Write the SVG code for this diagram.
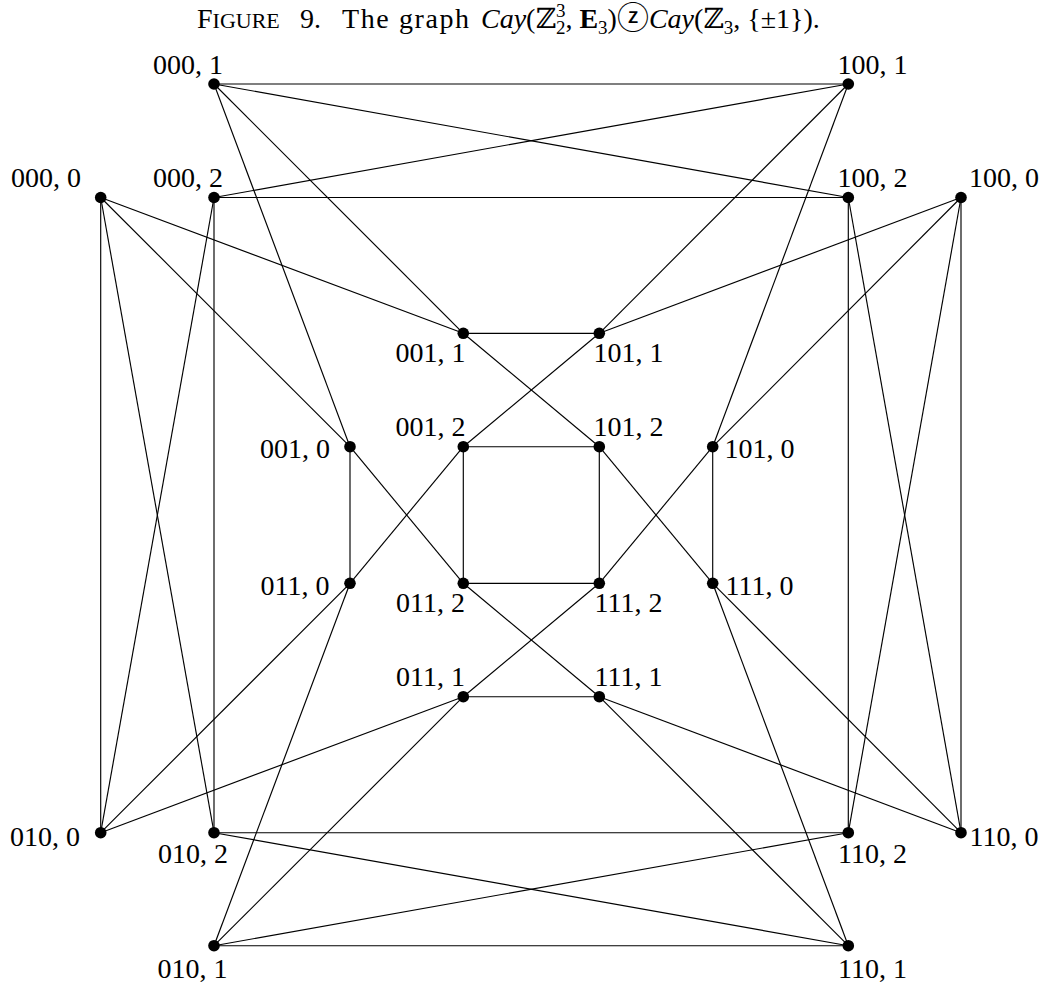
<svg xmlns="http://www.w3.org/2000/svg" width="1044" height="985" viewBox="0 0 1044 985">
<style>
.bg{fill:#fff}
.e line{stroke:#000;stroke-width:1.15;fill:none}
.n circle{fill:#000}
text{font-family:"Liberation Serif","DejaVu Serif","DejaVu Sans","Noto Sans CJK JP",serif;font-size:28px;fill:#000}
.lbl{text-anchor:middle}
.t{font-size:28px}
</style>
<rect class="bg" x="0" y="0" width="1044" height="985"/>
<text class="t" x="197" y="28">F<tspan font-size="22">IGURE</tspan><tspan x="300">9.</tspan><tspan x="342" textLength="127" lengthAdjust="spacing">The graph</tspan><tspan x="481" font-style="italic">Cay</tspan>(ℤ<tspan font-size="19" dy="-11">3</tspan><tspan font-size="19" dx="-9.5" dy="17">2</tspan><tspan dy="-6">, </tspan><tspan font-weight="bold">E</tspan><tspan font-size="19" dy="6">3</tspan><tspan dy="-6">)</tspan><tspan font-size="32" dy="1">ⓩ</tspan><tspan font-style="italic" dy="-1">Cay</tspan>(ℤ<tspan font-size="19" dy="6">3</tspan><tspan dy="-6">, {±1}).</tspan></text>
<g id="connectors" class="e">
<line x1="214" y1="84" x2="848.3" y2="84"/>
<line x1="214" y1="84" x2="848.3" y2="197.5"/>
<line x1="214" y1="197.5" x2="848.3" y2="197.5"/>
<line x1="214" y1="197.5" x2="848.3" y2="84"/>
<line x1="463.3" y1="333.3" x2="599.3" y2="333.3"/>
<line x1="463.3" y1="333.3" x2="599.3" y2="446.7"/>
<line x1="463.3" y1="446.7" x2="599.3" y2="446.7"/>
<line x1="463.3" y1="446.7" x2="599.3" y2="333.3"/>
<line x1="214" y1="945.7" x2="848.3" y2="945.7"/>
<line x1="214" y1="945.7" x2="848.3" y2="832.7"/>
<line x1="214" y1="832.7" x2="848.3" y2="832.7"/>
<line x1="214" y1="832.7" x2="848.3" y2="945.7"/>
<line x1="463.3" y1="696.7" x2="599.3" y2="696.7"/>
<line x1="463.3" y1="696.7" x2="599.3" y2="583.3"/>
<line x1="463.3" y1="583.3" x2="599.3" y2="583.3"/>
<line x1="463.3" y1="583.3" x2="599.3" y2="696.7"/>
<line x1="100.7" y1="197.5" x2="100.7" y2="832.7"/>
<line x1="100.7" y1="197.5" x2="214" y2="832.7"/>
<line x1="214" y1="197.5" x2="214" y2="832.7"/>
<line x1="214" y1="197.5" x2="100.7" y2="832.7"/>
<line x1="350" y1="446.7" x2="350" y2="583.3"/>
<line x1="350" y1="446.7" x2="463.3" y2="583.3"/>
<line x1="463.3" y1="446.7" x2="463.3" y2="583.3"/>
<line x1="463.3" y1="446.7" x2="350" y2="583.3"/>
<line x1="961" y1="197.5" x2="961" y2="832.7"/>
<line x1="961" y1="197.5" x2="848.3" y2="832.7"/>
<line x1="848.3" y1="197.5" x2="848.3" y2="832.7"/>
<line x1="848.3" y1="197.5" x2="961" y2="832.7"/>
<line x1="712.7" y1="446.7" x2="712.7" y2="583.3"/>
<line x1="712.7" y1="446.7" x2="599.3" y2="583.3"/>
<line x1="599.3" y1="446.7" x2="599.3" y2="583.3"/>
<line x1="599.3" y1="446.7" x2="712.7" y2="583.3"/>
<line x1="100.7" y1="197.5" x2="350" y2="446.7"/>
<line x1="100.7" y1="197.5" x2="463.3" y2="333.3"/>
<line x1="214" y1="84" x2="350" y2="446.7"/>
<line x1="214" y1="84" x2="463.3" y2="333.3"/>
<line x1="100.7" y1="832.7" x2="350" y2="583.3"/>
<line x1="100.7" y1="832.7" x2="463.3" y2="696.7"/>
<line x1="214" y1="945.7" x2="350" y2="583.3"/>
<line x1="214" y1="945.7" x2="463.3" y2="696.7"/>
<line x1="961" y1="197.5" x2="712.7" y2="446.7"/>
<line x1="961" y1="197.5" x2="599.3" y2="333.3"/>
<line x1="848.3" y1="84" x2="712.7" y2="446.7"/>
<line x1="848.3" y1="84" x2="599.3" y2="333.3"/>
<line x1="961" y1="832.7" x2="712.7" y2="583.3"/>
<line x1="961" y1="832.7" x2="599.3" y2="696.7"/>
<line x1="848.3" y1="945.7" x2="712.7" y2="583.3"/>
<line x1="848.3" y1="945.7" x2="599.3" y2="696.7"/>
</g>
<g id="n000_1" class="n"><circle cx="214" cy="84" r="5.8"/><text class="lbl" x="188" y="74">000, 1</text></g>
<g id="n100_1" class="n"><circle cx="848.3" cy="84" r="5.8"/><text class="lbl" x="872.5" y="74">100, 1</text></g>
<g id="n000_0" class="n"><circle cx="100.7" cy="197.5" r="5.8"/><text class="lbl" x="46" y="187">000, 0</text></g>
<g id="n000_2" class="n"><circle cx="214" cy="197.5" r="5.8"/><text class="lbl" x="188" y="187">000, 2</text></g>
<g id="n100_2" class="n"><circle cx="848.3" cy="197.5" r="5.8"/><text class="lbl" x="872.5" y="187">100, 2</text></g>
<g id="n100_0" class="n"><circle cx="961" cy="197.5" r="5.8"/><text class="lbl" x="1004" y="187">100, 0</text></g>
<g id="n001_1" class="n"><circle cx="463.3" cy="333.3" r="5.8"/><text class="lbl" x="430.5" y="362">001, 1</text></g>
<g id="n101_1" class="n"><circle cx="599.3" cy="333.3" r="5.8"/><text class="lbl" x="628.5" y="362">101, 1</text></g>
<g id="n001_0" class="n"><circle cx="350" cy="446.7" r="5.8"/><text class="lbl" x="295" y="458">001, 0</text></g>
<g id="n001_2" class="n"><circle cx="463.3" cy="446.7" r="5.8"/><text class="lbl" x="430.5" y="436">001, 2</text></g>
<g id="n101_2" class="n"><circle cx="599.3" cy="446.7" r="5.8"/><text class="lbl" x="628.5" y="436">101, 2</text></g>
<g id="n101_0" class="n"><circle cx="712.7" cy="446.7" r="5.8"/><text class="lbl" x="759.5" y="458">101, 0</text></g>
<g id="n011_0" class="n"><circle cx="350" cy="583.3" r="5.8"/><text class="lbl" x="295" y="595">011, 0</text></g>
<g id="n011_2" class="n"><circle cx="463.3" cy="583.3" r="5.8"/><text class="lbl" x="430.5" y="612">011, 2</text></g>
<g id="n111_2" class="n"><circle cx="599.3" cy="583.3" r="5.8"/><text class="lbl" x="628.5" y="612">111, 2</text></g>
<g id="n111_0" class="n"><circle cx="712.7" cy="583.3" r="5.8"/><text class="lbl" x="759.5" y="595">111, 0</text></g>
<g id="n011_1" class="n"><circle cx="463.3" cy="696.7" r="5.8"/><text class="lbl" x="430.5" y="686">011, 1</text></g>
<g id="n111_1" class="n"><circle cx="599.3" cy="696.7" r="5.8"/><text class="lbl" x="628.5" y="686">111, 1</text></g>
<g id="n010_0" class="n"><circle cx="100.7" cy="832.7" r="5.8"/><text class="lbl" x="45" y="846">010, 0</text></g>
<g id="n010_2" class="n"><circle cx="214" cy="832.7" r="5.8"/><text class="lbl" x="193" y="863">010, 2</text></g>
<g id="n110_2" class="n"><circle cx="848.3" cy="832.7" r="5.8"/><text class="lbl" x="872.5" y="863">110, 2</text></g>
<g id="n110_0" class="n"><circle cx="961" cy="832.7" r="5.8"/><text class="lbl" x="1004" y="846">110, 0</text></g>
<g id="n010_1" class="n"><circle cx="214" cy="945.7" r="5.8"/><text class="lbl" x="192.5" y="978">010, 1</text></g>
<g id="n110_1" class="n"><circle cx="848.3" cy="945.7" r="5.8"/><text class="lbl" x="872.5" y="978">110, 1</text></g>
</svg>
